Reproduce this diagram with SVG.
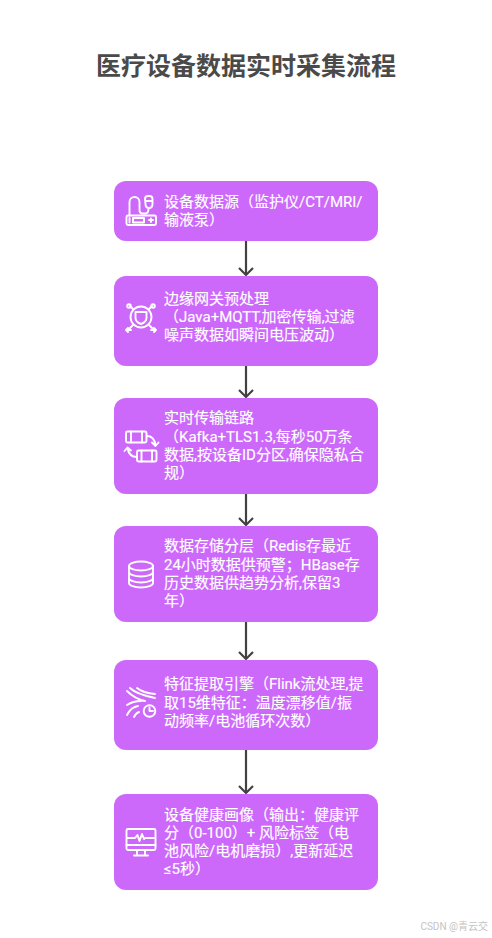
<svg xmlns="http://www.w3.org/2000/svg" width="492" height="938" viewBox="0 0 492 938">
<style>
.n{fill:#cc69fb}
.t{font-family:Roboto,"Noto Sans CJK SC",sans-serif;font-size:15px;font-weight:400;fill:#fff;stroke:#fff;stroke-width:.15}
.i{fill:none;stroke:#fff;stroke-width:1.9;stroke-linecap:round;stroke-linejoin:round}
.c{fill:none;stroke:#424242;stroke-width:2.2}
</style>
<rect width="492" height="938" fill="#fff"/>
<text x="246" y="75" text-anchor="middle" font-family="Roboto,'Noto Sans CJK SC',sans-serif" font-size="25" font-weight="700" fill="#4a4a4a">医疗设备数据实时采集流程</text>
<g id="connectors">
<g id="e1"><path class="c" d="M246 241V274"/><path class="c" d="M239 268L246 275L253 268"/></g>
<g id="e2"><path class="c" d="M246 366V396"/><path class="c" d="M239 390L246 397L253 390"/></g>
<g id="e3"><path class="c" d="M246 494V524"/><path class="c" d="M239 518L246 525L253 518"/></g>
<g id="e4"><path class="c" d="M246 622V658"/><path class="c" d="M239 652L246 659L253 652"/></g>
<g id="e5"><path class="c" d="M246 750V792"/><path class="c" d="M239 786L246 793L253 786"/></g>
</g>
<g id="node1"><rect class="n" x="114" y="181" width="264" height="60" rx="12"/>
<g class="i"><rect x="126.500" y="215.500" width="29.500" height="9.500" rx="1.500"/><rect x="133" y="218" width="11" height="4.500"/><path d="M129.500 218v4.500M149 220h4M151 218.500v3.500M129.500 215.500V202a5 5 0 0 1 10 0v8q0 3.500 3 3.500h3q3 0 3-5M145 199a3 3 0 0 1 3-3h1.500a3 3 0 0 1 3 3v5q0 4-3.500 4t-3.500-4zM145 201h7"/></g>
<text class="t" x="164" y="207">设备数据源（监护仪/CT/MRI/</text><text class="t" x="164" y="225">输液泵）</text></g>
<g id="node2"><rect class="n" x="114" y="276" width="264" height="90" rx="12"/>
<g class="i"><circle cx="141" cy="317" r="10.500"/><path d="M135.500 312h11v6q0 4-5.500 6q-5.500-2-5.500-6zM133 309l-3-3M149 309l3-3M133 325l-5 5M149 325l5 5M126 330h5M126 330l2-2M126 330l2 2M156 330h-5M156 330l-2-2M156 330l-2 2"/><circle cx="129" cy="306" r="1.800"/><circle cx="153" cy="306" r="1.800"/></g>
<text class="t" x="164" y="304">边缘网关预处理</text><text class="t" x="164" y="322">（Java+MQTT,加密传输,过滤</text><text class="t" x="164" y="340">噪声数据如瞬间电压波动）</text></g>
<g id="node3"><rect class="n" x="114" y="398" width="264" height="96" rx="12"/>
<g class="i"><rect x="126" y="431.500" width="20.500" height="11" rx="1.500"/><path d="M131 431.500v11M142 431.500v11M147 436q7 0 8.500 9M152 442.500l3.500 3.500l3-3.500"/><rect x="137" y="450.500" width="19.500" height="11" rx="1.500"/><path d="M141.500 450.500v11M152 450.500v11M137 457q-8 0-9.500-9M124.500 451l3-3.500l3.500 3"/></g>
<text class="t" x="164" y="423">实时传输链路</text><text class="t" x="164" y="442">（Kafka+TLS1.3,每秒50万条</text><text class="t" x="164" y="460">数据,按设备ID分区,确保隐私合</text><text class="t" x="164" y="478">规）</text></g>
<g id="node4"><rect class="n" x="114" y="526" width="264" height="96" rx="12"/>
<g class="i"><ellipse cx="141" cy="566" rx="12" ry="4.500"/><path d="M129 566v17c0 2.500 5.500 4.500 12 4.500s12-2 12-4.500v-17M129 572c0 2.500 5.500 4.500 12 4.500s12-2 12-4.500M129 578c0 2.500 5.500 4.500 12 4.500s12-2 12-4.500"/></g>
<text class="t" x="164" y="551">数据存储分层（Redis存最近</text><text class="t" x="164" y="570">24小时数据供预警；HBase存</text><text class="t" x="164" y="588">历史数据供趋势分析,保留3</text><text class="t" x="164" y="606">年）</text></g>
<g id="node5"><rect class="n" x="114" y="660" width="264" height="90" rx="12"/>
<g class="i"><circle cx="149.500" cy="711" r="5.800"/><path d="M149.500 707.500v3.500h3.500M127 691q8 8 18 10M130 688q6 6 25 10M137 688q6 5 18 6M127 705q6-4 14-4M127 715q4-8 11-9M134 717q2-4 5-5"/></g>
<text class="t" x="164" y="689">特征提取引擎（Flink流处理,提</text><text class="t" x="164" y="708">取15维特征：温度漂移值/振</text><text class="t" x="164" y="726">动频率/电池循环次数）</text></g>
<g id="node6"><rect class="n" x="114" y="794" width="264" height="96" rx="12"/>
<g class="i"><rect x="126.500" y="829" width="29" height="21" rx="1.500"/><path d="M126.500 845h29M127 838h8l2.500-3l2 6l2.500-7l2 5l1-1h9M137 850v5M145 850v5M134 855.500h14"/></g>
<text class="t" x="164" y="820">设备健康画像（输出：健康评</text><text class="t" x="164" y="838">分（0-100）+ 风险标签（电</text><text class="t" x="164" y="856">池风险/电机磨损）,更新延迟</text><text class="t" x="164" y="874">≤5秒）</text></g>
<text x="488" y="930" text-anchor="end" font-family="Roboto,'Noto Sans CJK SC',sans-serif" font-size="10" fill="#c4c4c4">CSDN @青云交</text>
</svg>
